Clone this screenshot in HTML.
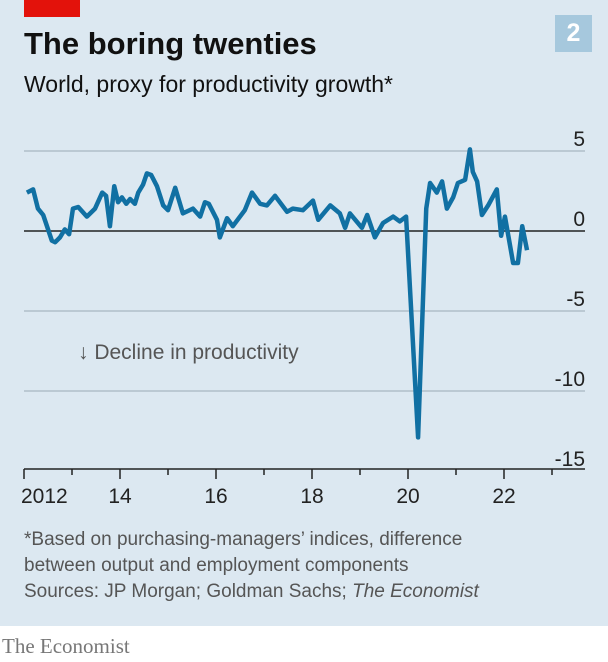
<!DOCTYPE html>
<html><head><meta charset="utf-8"><style>
body{margin:0;width:608px;height:662px;overflow:hidden;font-family:"Liberation Sans",sans-serif}
#wrap{position:relative;width:608px;height:662px;background:#fff}
#panel{position:absolute;left:0;top:0;width:608px;height:626px;background:#dce8f1}
.t{position:absolute;white-space:nowrap}
</style></head><body>
<div id="wrap">
<div id="panel"></div>
<div style="position:absolute;left:24px;top:0;width:56px;height:17px;background:#e3120b"></div>
<div class="t" style="left:24px;top:26px;font-size:31px;font-weight:bold;color:#111">The boring twenties</div>
<div class="t" style="left:24px;top:71px;font-size:23px;color:#111">World, proxy for productivity growth*</div>
<div class="t" style="left:555px;top:15px;width:37px;height:37px;background:#a6c8dd;color:#fff;font-size:25px;font-weight:bold;text-align:center;line-height:37px">2</div>
<svg id="chart" width="608" height="530" style="position:absolute;left:0;top:0"></svg>
<div class="t" style="left:24px;top:527px;font-size:19px;line-height:26px;color:#555">*Based on purchasing-managers’ indices, difference<br>between output and employment components<br>Sources: JP Morgan; Goldman Sachs; <i>The Economist</i></div>
<div class="t" style="left:2px;top:634px;font-family:'Liberation Serif',serif;font-size:21px;color:#777">The Economist</div>
</div>
<script>
const years=[2012.06,2012.19,2012.29,2012.40,2012.58,2012.65,2012.75,2012.85,2012.94,2013.02,2013.13,2013.31,2013.48,2013.63,2013.71,2013.79,2013.88,2013.96,2014.04,2014.13,2014.21,2014.31,2014.38,2014.48,2014.56,2014.65,2014.77,2014.90,2015.00,2015.15,2015.31,2015.52,2015.67,2015.77,2015.85,2016.02,2016.08,2016.23,2016.35,2016.60,2016.75,2016.92,2017.06,2017.23,2017.48,2017.60,2017.81,2018.02,2018.13,2018.38,2018.58,2018.69,2018.79,2019.04,2019.15,2019.31,2019.48,2019.69,2019.83,2019.96,2020.21,2020.38,2020.46,2020.60,2020.71,2020.81,2020.94,2021.04,2021.19,2021.29,2021.35,2021.44,2021.54,2021.67,2021.85,2021.94,2022.02,2022.19,2022.29,2022.38,2022.48];
const values=[2.4,2.6,1.4,1.0,-0.6,-0.7,-0.4,0.1,-0.2,1.4,1.5,0.9,1.4,2.4,2.2,0.3,2.8,1.8,2.1,1.7,2.0,1.7,2.4,2.9,3.6,3.5,2.8,1.6,1.3,2.7,1.1,1.4,0.9,1.8,1.7,0.7,-0.4,0.8,0.3,1.3,2.4,1.7,1.6,2.2,1.2,1.4,1.3,1.9,0.7,1.6,1.1,0.2,1.1,0.2,1.0,-0.4,0.5,0.9,0.6,0.9,-12.9,1.4,3.0,2.4,3.1,1.4,2.1,3.0,3.2,5.1,3.7,3.1,1.0,1.6,2.6,-0.3,0.9,-2.0,-2.0,0.3,-1.2];
const yTicks=[5,0,-5,-10,-15];
const xTicks=[2012,2014,2016,2018,2020,2022];
const xLabels=["2012","14","16","18","20","22"];
const svg=document.getElementById('chart'),NS='http://www.w3.org/2000/svg';
const X=v=>24+(v-2012)*48, Y=v=>231-v*16;
function mk(t,a){const e=document.createElementNS(NS,t);for(const k in a)e.setAttribute(k,a[k]);svg.appendChild(e);return e;}
yTicks.forEach(v=>{
 if(v!==-15){const l=mk('line',{x1:24,x2:585,y1:Y(v),y2:Y(v),stroke:v===0?'#222':'#a7b6c1','stroke-width':v===0?1.5:1.2});
 
 }
 const t=mk('text',{x:585,y:Y(v)-5,'text-anchor':'end','font-size':21,fill:'#222','font-family':'Liberation Sans, sans-serif'});
 t.textContent=v;
 
 
});
const ax=mk('line',{x1:24,x2:585,y1:469,y2:469,stroke:'#222','stroke-width':1.5});


for(let y=2012;y<=2023;y++){const tk=mk('line',{x1:X(y),x2:X(y),y1:469,y2:y%2===0?479:475,stroke:'#222','stroke-width':1.5});
 
 }
xTicks.forEach((v,i)=>{const t=mk('text',{x:i===0?X(v)-3:X(v),y:503,'text-anchor':i===0?'start':'middle','font-size':21,fill:'#222','font-family':'Liberation Sans, sans-serif'});
 t.textContent=xLabels[i];
 
 });
const ann=mk('text',{x:78,y:359,'font-size':21,fill:'#555','font-family':'Liberation Sans, sans-serif'});
ann.textContent='↓ Decline in productivity';


const p=mk('polyline',{points:years.map((y,i)=>X(y)+','+Y(values[i])).join(' '),fill:'none',stroke:'#1170a3','stroke-width':4.5,'stroke-linejoin':'round'});


</script>
</body></html>
